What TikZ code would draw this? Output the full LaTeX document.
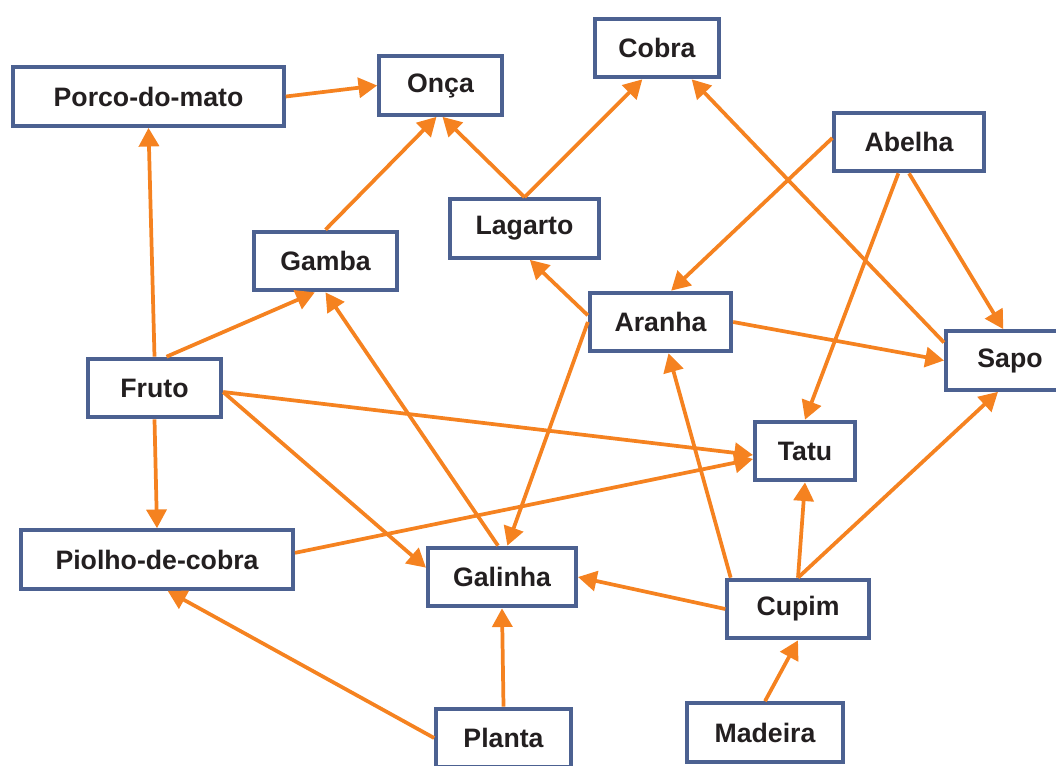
\documentclass[tikz,border=0pt]{standalone}
\usepackage{fontspec}
\setmainfont{Liberation Sans}
\usetikzlibrary{arrows.meta}
\definecolor{borda}{RGB}{76,97,145}
\definecolor{laranja}{RGB}{245,130,32}
\definecolor{texto}{RGB}{35,31,32}
\begin{document}
\begin{tikzpicture}[x=0.75pt,y=-0.75pt,
    caixa/.style={draw=borda,line width=3pt,fill=white,text=texto,
        font=\fontsize{20}{24}\selectfont\bfseries,minimum height=44pt,inner sep=0pt},
    seta/.style={draw=laranja,line width=2.8pt,-{Triangle[length=14pt,width=15pt]}}]
    \useasboundingbox (0,0) rectangle (1056,765);
    % animals and plants
    \node[caixa,minimum width=203pt] (porco) at (148.5,96.5) {Porco-do-mato};
    \node[caixa,minimum width=92pt] (onca) at (440.5,85.5) {Onça};
    \node[caixa,minimum width=93pt] (cobra) at (657,48) {Cobra};
    \node[caixa,minimum width=112pt] (abelha) at (909,142) {Abelha};
    \node[caixa,minimum width=112pt] (lagarto) at (524.5,228.5) {Lagarto};
    \node[caixa,minimum width=107pt] (gamba) at (325.5,261) {Gamba};
    \node[caixa,minimum width=100pt] (fruto) at (154.5,388) {Fruto};
    \node[caixa,minimum width=106pt] (aranha) at (660.5,322) {Aranha};
    \node[caixa,minimum width=96pt] (sapo) at (1010,360.5) {Sapo};
    \node[caixa,minimum width=75pt] (tatu) at (805,451) {Tatu};
    \node[caixa,minimum width=204pt] (piolho) at (157,559.5) {Piolho-de-cobra};
    \node[caixa,minimum width=111pt] (galinha) at (502,577) {Galinha};
    \node[caixa,minimum width=106pt] (cupim) at (798,609) {Cupim};
    \node[caixa,minimum width=101pt] (planta) at (503.5,738) {Planta};
    \node[caixa,minimum width=117pt] (madeira) at (765,732.5) {Madeira};
    % who eats whom
    \draw[seta] (porco.east) -- (onca.west);
    \draw[seta] (fruto.north) -- (porco.south);
    \draw[seta] ([xshift=9pt]fruto.north) -- ([xshift=-8pt]gamba.south);
    \draw[seta] (gamba.north) -- ([xshift=-3pt]onca.south);
    \draw[seta] (lagarto.north) -- ([xshift=1.5pt]onca.south);
    \draw[seta] (lagarto.north) -- ([xshift=-11pt]cobra.south);
    \draw[seta] ([yshift=-10pt]sapo.north west) -- ([xshift=26pt]cobra.south);
    \draw[seta] ([yshift=3pt]abelha.west) -- ([xshift=8pt]aranha.north);
    \draw[seta] ([xshift=-8pt]abelha.south) -- (tatu.north);
    \draw[seta] (abelha.south) -- ([xshift=-5pt]sapo.north);
    \draw[seta] (aranha.east) -- (sapo.west);
    \draw[seta] ([yshift=5pt]aranha.west) -- ([xshift=4pt]lagarto.south);
    \draw[seta] (aranha.west) -- ([xshift=4pt]galinha.north);
    \draw[seta] ([xshift=-3pt]galinha.north) -- (gamba.south);
    \draw[seta] ([yshift=-3pt]fruto.east) -- ([yshift=-3pt]tatu.west);
    \draw[seta] ([yshift=-3pt]fruto.east) -- ([yshift=7pt]galinha.west);
    \draw[seta] (fruto.south) -- (piolho.north);
    \draw[seta] ([yshift=5pt]piolho.east) -- ([yshift=-6pt]tatu.west);
    \draw[seta] (planta.west) -- ([xshift=8pt]piolho.south);
    \draw[seta] (planta.north) -- (galinha.south);
    \draw[seta] (cupim.west) -- (galinha.east);
    \draw[seta] ([xshift=4pt]cupim.north west) -- ([xshift=6pt]aranha.south);
    \draw[seta] (cupim.north) -- (tatu.south);
    \draw[seta] (cupim.north) -- ([xshift=-9pt]sapo.south);
    \draw[seta] (madeira.north) -- (cupim.south);
\end{tikzpicture}
\end{document}
